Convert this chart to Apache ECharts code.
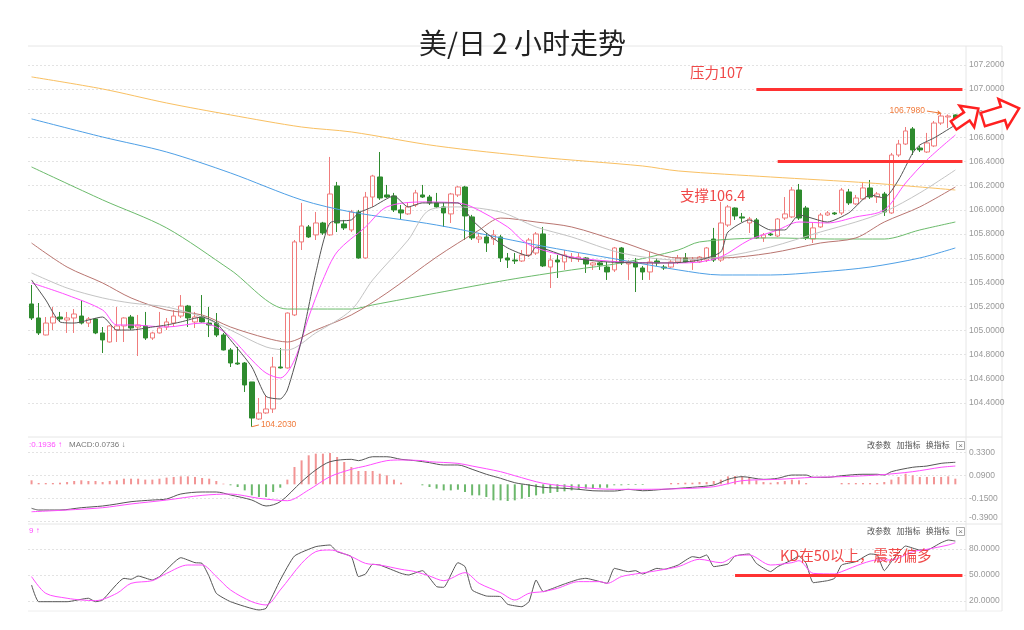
<!DOCTYPE html>
<html><head><meta charset="utf-8">
<script src="https://cdn.jsdelivr.net/npm/echarts@6/dist/echarts.min.js"></script>
<style>html,body{margin:0;padding:0;background:#fff}#c{width:1024px;height:630px}</style>
</head><body><div id="c"></div>
<script>
// ---------- DATA ----------
const categories = Array.from({length: 132}, (_, i) => 'K' + (i + 1));
// [open, close, low, high]
const candles = [
[105.220,105.104,105.087,105.377],[105.104,104.980,104.963,105.228],[104.963,105.062,104.960,105.112],[105.062,105.112,105.004,105.195],
[105.112,105.096,105.071,105.154],[105.087,105.104,104.980,105.154],[105.104,105.137,104.980,105.178],[105.120,105.062,105.050,105.253],
[105.062,105.096,105.029,105.112],[105.096,104.980,104.970,105.104],[104.980,104.922,104.814,105.029],[104.905,105.038,104.900,105.045],
[105.004,105.038,104.905,105.195],[105.038,105.104,104.905,105.110],[105.112,105.021,105.004,105.129],[105.029,105.046,104.789,105.129],
[105.038,104.938,104.922,105.154],[104.938,104.980,104.922,104.990],[104.980,105.021,104.975,105.154],[105.029,105.071,105.004,105.104],
[105.062,105.120,105.029,105.170],[105.120,105.203,105.104,105.294],[105.203,105.104,105.029,105.212],[105.071,105.112,105.021,105.154],
[105.112,105.071,105.065,105.294],[105.062,105.046,104.946,105.195],[105.062,104.963,104.946,105.145],[104.963,104.839,104.835,104.980],
[104.839,104.731,104.698,104.855],[104.731,104.723,104.715,104.864],[104.731,104.549,104.491,104.739],[104.574,104.275,104.203,104.574],
[104.267,104.317,104.259,104.441],[104.317,104.350,104.310,104.466],[104.350,104.698,104.317,104.781],[104.698,104.690,104.685,104.855],
[104.690,105.145,104.685,105.150],[105.129,105.734,105.120,105.750],[105.734,105.866,105.667,106.057],[105.858,105.775,105.767,105.874],
[105.792,105.891,105.750,105.982],[105.891,105.808,105.792,105.900],[105.792,106.131,105.785,106.438],[106.198,105.891,105.816,106.231],
[105.883,105.850,105.833,105.916],[105.833,105.982,105.816,105.999],[105.982,105.601,105.595,105.999],[105.601,106.106,105.595,106.148],
[106.106,106.280,106.024,106.290],[106.272,106.098,106.082,106.479],[106.123,106.106,106.098,106.206],[106.115,105.999,105.982,106.140],
[105.999,105.974,105.924,106.040],[105.966,106.024,105.958,106.057],[106.040,106.140,106.024,106.165],[106.123,106.106,106.098,106.206],
[106.106,106.057,106.040,106.123],[106.057,106.024,106.016,106.140],[106.024,105.974,105.858,106.057],[105.966,106.131,105.891,106.140],
[106.123,106.189,106.106,106.198],[106.189,105.949,105.750,106.198],[105.941,105.767,105.750,105.958],[105.758,105.775,105.725,105.808],
[105.775,105.725,105.651,105.808],[105.758,105.792,105.709,105.833],[105.775,105.601,105.568,105.792],[105.601,105.584,105.518,105.642],
[105.584,105.576,105.551,105.642],[105.576,105.626,105.568,105.667],[105.626,105.750,105.609,105.767],[105.642,105.800,105.626,105.816],
[105.800,105.535,105.526,105.858],[105.526,105.584,105.352,105.626],[105.584,105.568,105.435,105.626],[105.568,105.626,105.502,105.667],
[105.601,105.609,105.568,105.642],[105.593,105.609,105.568,105.642],[105.601,105.551,105.477,105.609],[105.543,105.560,105.502,105.568],
[105.560,105.543,105.502,105.568],[105.526,105.485,105.419,105.568],[105.502,105.684,105.485,105.692],[105.684,105.560,105.543,105.692],
[105.551,105.560,105.419,105.584],[105.568,105.526,105.319,105.601],[105.518,105.485,105.419,105.535],[105.485,105.568,105.419,105.651],
[105.576,105.560,105.535,105.601],[105.526,105.518,105.502,105.543],[105.526,105.568,105.518,105.584],[105.568,105.601,105.551,105.626],
[105.601,105.568,105.560,105.642],[105.568,105.584,105.502,105.609],[105.568,105.609,105.560,105.617],[105.584,105.684,105.568,105.692],
[105.758,105.584,105.568,105.850],[105.584,105.891,105.568,106.065],[105.874,106.024,105.858,106.040],[106.015,105.949,105.916,106.020],
[105.941,105.932,105.899,105.974],[105.891,105.924,105.808,105.941],[105.916,105.767,105.758,105.932],[105.767,105.792,105.734,105.808],
[105.800,105.792,105.783,105.808],[105.783,105.924,105.775,105.932],[105.932,105.966,105.916,106.106],[105.941,106.164,105.932,106.189],
[106.164,105.932,105.916,106.214],[106.015,105.767,105.750,106.032],[105.758,105.850,105.725,105.891],[105.858,105.957,105.850,105.974],
[105.957,105.974,105.949,105.990],[105.974,105.966,105.957,105.982],[105.974,106.164,105.957,106.181],[106.148,106.057,106.040,106.173],
[106.049,106.098,106.040,106.123],[106.090,106.181,106.082,106.231],[106.181,106.106,106.090,106.247],[106.106,106.131,106.057,106.148],
[106.131,105.982,105.949,106.148],[105.974,106.454,105.966,106.471],[106.454,106.545,106.438,106.579],[106.545,106.653,106.537,106.686],
[106.670,106.496,106.454,106.686],[106.512,106.496,106.479,106.529],[106.479,106.554,106.471,106.637],[106.529,106.719,106.520,106.736],
[106.719,106.777,106.703,106.798],[106.769,106.777,106.678,106.790],[106.786,106.736,106.719,106.790]
];
// moving averages: [candle index, value]
const ma5 = [[0,105.419],[2,105.253],[4,105.071],[6,105.062],[10,105.112],[12,105.004],[14,105.004],[17,105.029],[19,105.046],[21,105.071],[24,105.112],[26,105.062],[28,104.922],[31,104.698],[33,104.455],[35,104.433],[36,104.507],[38,104.922],[40,105.477],[42,105.891],[45,105.916],[46,105.974],[48,106.024],[51,106.115],[53,106.024],[55,106.057],[57,106.057],[60,106.057],[62,105.916],[64,105.808],[67,105.684],[70,105.618],[71,105.692],[76,105.601],[81,105.568],[86,105.56],[90,105.56],[94,105.584],[97,105.651],[98,105.816],[101,105.916],[104,105.833],[106,105.833],[108,105.957],[112,105.899],[115,105.974],[118,106.123],[120,106.098],[122,106.247],[124,106.471],[125,106.537],[127,106.595],[130,106.703]];
const ma10 = [[0,105.394],[5,105.294],[10,105.17],[12,105.046],[14,105.046],[19,105.029],[24,105.062],[26,105.029],[28,104.946],[31,104.756],[33,104.648],[35,104.607],[37,104.756],[39,105.112],[41,105.419],[43,105.651],[47,105.858],[50,106.024],[55,106.065],[60,106.057],[62,106.024],[67,105.858],[69,105.75],[71,105.684],[76,105.609],[83,105.568],[91,105.56],[94,105.568],[97,105.609],[101,105.75],[105,105.833],[108,105.899],[112,105.891],[116,105.941],[120,105.999],[123,106.222],[126,106.413],[130,106.62]];
const ma20 = [[0,105.477],[5,105.352],[10,105.27],[14,105.228],[19,105.195],[24,105.112],[28,105.004],[33,104.864],[36,104.839],[40,104.98],[45,105.17],[48,105.419],[53,105.75],[56,105.999],[60,106.024],[66,105.982],[71,105.858],[76,105.775],[83,105.642],[91,105.584],[97,105.609],[104,105.692],[111,105.816],[116,105.899],[120,105.982],[125,106.14],[130,106.33]];
const ma30 = [[0,105.725],[5,105.526],[10,105.394],[14,105.27],[19,105.17],[24,105.129],[28,105.029],[33,104.938],[36,104.905],[40,105.004],[45,105.129],[50,105.311],[57,105.609],[63,105.833],[66,105.932],[71,105.899],[76,105.858],[83,105.734],[91,105.601],[97,105.601],[104,105.642],[111,105.725],[116,105.767],[120,105.899],[125,106.024],[130,106.189]];
const ma60 = [[0,106.355],[10,106.082],[19,105.85],[28,105.502],[36,105.178],[45,105.178],[48,105.212],[57,105.311],[67,105.419],[76,105.502],[83,105.56],[91,105.667],[94,105.734],[104,105.767],[113,105.758],[120,105.758],[125,105.833],[130,105.899]];
const ma120 = [[0,106.753],[10,106.603],[19,106.479],[28,106.305],[38,106.082],[45,105.982],[57,105.874],[71,105.709],[83,105.584],[91,105.502],[97,105.46],[104,105.46],[111,105.485],[118,105.526],[125,105.601],[130,105.684]];
const ma250 = [[0,107.101],[10,107.001],[19,106.885],[28,106.786],[38,106.686],[45,106.645],[57,106.529],[71,106.438],[86,106.363],[91,106.322],[104,106.272],[118,106.222],[130,106.164]];
// MACD
const macdHist = [0.042,0.014,0.014,0.014,0.017,0.024,0.035,0.042,0.035,0.035,0.024,0.035,0.042,0.059,0.059,0.059,0.049,0.049,0.059,0.07,
0.077,0.083,0.083,0.077,0.066,0.059,0.035,0.007,-0.01,-0.028,-0.063,-0.115,-0.132,-0.132,-0.08,-0.035,0.049,0.181,0.25,0.303,
0.32,0.32,0.327,0.285,0.233,0.181,0.139,0.139,0.139,0.111,0.094,0.049,0.017,0,0,-0.01,-0.028,-0.045,-0.063,-0.063,
-0.056,-0.08,-0.115,-0.115,-0.132,-0.167,-0.167,-0.174,-0.167,-0.15,-0.132,-0.115,-0.097,-0.09,-0.08,-0.073,-0.063,-0.056,-0.045,-0.045,
-0.035,-0.035,-0.01,-0.01,-0.007,-0.007,-0.007,0,0,0,0.014,0.014,0.017,0.017,0.024,0.024,0.035,0.049,0.083,0.087,
0.083,0.077,0.042,0.024,0.017,0.024,0.035,0.049,0.042,0.014,0,0,0,0,0.014,0.014,0.014,0.014,0.014,0.014,
0.024,0.049,0.077,0.111,0.094,0.077,0.077,0.077,0.077,0.083,0.059];
const dif = [[0,-0.25],[1,-0.268],[4,-0.268],[7,-0.244],[10,-0.226],[12,-0.205],[14,-0.181],[17,-0.164],[19,-0.153],[21,-0.101],[24,-0.08],[26,-0.08],[28,-0.111],[31,-0.164],[33,-0.226],[35,-0.181],[38,0.027],[40,0.15],[42,0.236],[45,0.261],[46,0.247],[48,0.288],[50,0.288],[52,0.261],[54,0.247],[56,0.226],[58,0.202],[60,0.202],[62,0.157],[64,0.105],[66,0.063],[68,0.017],[70,-0.007],[72,-0.031],[75,-0.042],[77,-0.052],[79,-0.067],[82,-0.07],[84,-0.052],[86,-0.067],[89,-0.052],[91,-0.042],[93,-0.031],[96,-0.007],[98,0.052],[100,0.08],[103,0.052],[105,0.063],[107,0.097],[109,0.097],[110,0.073],[112,0.073],[114,0.09],[117,0.105],[119,0.105],[120,0.097],[121,0.132],[124,0.178],[126,0.191],[128,0.219],[130,0.23]];
const dea = [[0,-0.286],[5,-0.268],[10,-0.244],[14,-0.205],[19,-0.164],[24,-0.115],[28,-0.101],[32,-0.146],[36,-0.171],[39,-0.059],[42,0.08],[45,0.157],[47,0.191],[50,0.247],[52,0.254],[55,0.247],[56,0.236],[60,0.219],[62,0.191],[66,0.132],[68,0.09],[72,0.011],[77,-0.031],[82,-0.052],[86,-0.052],[91,-0.046],[96,-0.025],[100,0.038],[105,0.052],[110,0.073],[114,0.08],[119,0.097],[124,0.132],[128,0.178],[130,0.191]];
// KD
const kLine = [[0,38.4],[1,19],[5,19],[8,23],[9,19],[10,21],[13,46.1],[14,45],[15,48.8],[17,44.2],[18,48.1],[21,70.1],[23,64.3],[24,63.5],[25,48.1],[26,28.7],[28,19],[32,9.4],[33,11.3],[35,44.2],[37,72],[40,82.9],[42,84.8],[43,77.1],[45,71.3],[46,48.1],[47,51.2],[48,62.4],[49,61.6],[52,51.9],[53,50],[55,55],[57,36.5],[58,35.7],[60,64.3],[61,59.7],[62,32.6],[64,25.6],[66,24.9],[67,16],[69,13.2],[70,19],[71,44.2],[72,30.7],[74,36.5],[75,39.6],[77,45],[78,46.1],[80,42.3],[81,40.3],[82,57.7],[84,53.9],[85,55],[86,51.2],[88,57.7],[89,56.6],[91,61.6],[93,71.3],[94,70.1],[95,73.2],[96,59.7],[98,62.8],[99,72],[101,74.4],[102,63.5],[104,53.9],[105,59.7],[107,67.4],[108,72],[109,63.5],[110,41.1],[112,43.4],[113,46.1],[114,61.6],[116,65.5],[118,74.4],[119,73.2],[120,55],[121,65.5],[123,83.6],[125,79],[126,79],[128,87.5],[129,90.6],[130,89.4]];
const dLine = [[0,48.1],[2,28.7],[5,23],[7,21],[9,20.2],[12,28.7],[14,40.3],[17,43.4],[19,51.9],[22,61.6],[24,61.6],[26,48.1],[28,32.6],[31,19],[33,15.2],[35,32.6],[38,63.5],[40,77.1],[42,79],[45,71.3],[47,63.5],[49,61.6],[52,56.6],[54,53.9],[56,48.8],[58,43.4],[61,52.7],[63,40.3],[66,29.5],[68,21],[70,28.7],[72,30.7],[74,34.5],[77,42.3],[80,42.3],[81,40.3],[83,48.1],[85,51.2],[88,55],[91,59.7],[94,68.2],[97,64.3],[99,72],[101,73.2],[104,61.6],[107,64.3],[108,66.6],[110,51.9],[113,51.2],[114,53.9],[117,63.5],[119,67.4],[121,67.4],[124,77.1],[126,79.8],[129,84.8],[130,87.5]];
// axis ticks
const priceTicks = [107.2,107.0,106.8,106.6,106.4,106.2,106.0,105.8,105.6,105.4,105.2,105.0,104.8,104.6,104.4];
const macdTicks = [0.33,0.09,-0.15,-0.39];
const kdTicks = [80,50,20];
// annotations
const resistance = 107.0, support = 106.4, kdLevel = 50;
const lowPrice = 104.2030, highPrice = 106.7980;

// ---------- CHART ----------
const chart = echarts.init(document.getElementById('c'));
const RED = '#ff3232';
const gridLeft = 28, gridW = 938;
function xAx(g){return {type:'category',gridIndex:g,data:categories,boundaryGap:true,axisLine:{show:false},axisTick:{show:false},axisLabel:{show:false},splitLine:{show:false}};}
function yAx(g,min,max,ticks,dec){return {type:'value',gridIndex:g,position:'right',min:min,max:max,
  axisLine:{show:false},axisTick:{show:false,customValues:ticks},
  axisLabel:{customValues:ticks,formatter:v=>(v<-0.3&&v>-1)?'{up|'+v.toFixed(dec)+'}':v.toFixed(dec),color:'#9a9a9a',fontSize:8.5,margin:3,fontFamily:'Liberation Sans',
    rich:{up:{color:'#9a9a9a',fontSize:8.5,fontFamily:'Liberation Sans',padding:[0,0,9,0]}}},
  splitLine:{show:true,lineStyle:{color:'#e3e3e3',type:[2,2],width:1}}};}
function ln(name,data,color,x,smooth,w){return {name:name,type:'line',xAxisIndex:x,yAxisIndex:x,data:data,symbol:'none',smooth:smooth,
  lineStyle:{color:color,width:w||1},z:3,silent:true};}

const option = {
  animation:false,
  backgroundColor:'#fff',
  title:{text:'美/日 2 小时走势',left:414,top:24,textStyle:{fontSize:28,fontWeight:'normal',color:'#222',fontFamily:'Noto Sans CJK SC'}},
  grid:[
    {left:gridLeft,top:46,width:gridW,height:391},
    {left:gridLeft,top:437,width:gridW,height:87},
    {left:gridLeft,top:524,width:gridW,height:87}
  ],
  xAxis:[xAx(0),xAx(1),xAx(2)],
  yAxis:[yAx(0,104.118,107.357,priceTicks,4),yAx(1,-0.414,0.494,macdTicks,4),yAx(2,8.2,109.2,kdTicks,4)],
  series:[
    {type:'candlestick',xAxisIndex:0,yAxisIndex:0,data:candles,barWidth:5,z:2,
     itemStyle:{color:'rgba(255,255,255,0)',color0:'#2e8b2e',borderColor:'#f07c7c',borderColor0:'#2e8b2e',borderWidth:1},
     markLine:{symbol:'none',silent:true,animation:false,
       lineStyle:{color:RED,width:3,type:'solid'},label:{show:false},
       data:[
         [{coord:[102,resistance]},{coord:[131,resistance]}],
         [{coord:[105,support]},{coord:[131,support]}],
         [{coord:[31,lowPrice],lineStyle:{color:'#f07a3a',width:1},label:{show:true,position:'end',formatter:lowPrice.toFixed(4),color:'#f07a3a',fontSize:8.5,distance:2,fontFamily:'Liberation Sans'}},{coord:[32,104.218]}],
         [{coord:[126,106.818],symbol:'none',lineStyle:{color:'#f07a3a',width:1},label:{show:true,position:'start',formatter:highPrice.toFixed(4),color:'#f07a3a',fontSize:8.5,distance:2,fontFamily:'Liberation Sans'}},{coord:[128,106.800],symbol:'arrow',symbolSize:4}]
       ]}
    },
    ln('MA250',ma250,'#f9c062',0,0.3),
    ln('MA120',ma120,'#4fa0e6',0,0.3),
    ln('MA60',ma60,'#6cbb6c',0,0.3),
    ln('MA30',ma30,'#b97570',0,0.3),
    ln('MA20',ma20,'#c4c4c4',0,0.3),
    ln('MA10',ma10,'#ff4dff',0,0.3),
    ln('MA5',ma5,'#555555',0,0.2),
    {type:'bar',xAxisIndex:1,yAxisIndex:1,data:macdHist,barWidth:2,silent:true,
     itemStyle:{color:p=>p.value>=0?'#f29494':'#6cb86c'}},
    ln('DIF',dif,'#555555',1,0.3),
    ln('DEA',dea,'#ff4dff',1,0.3),
    Object.assign(ln('K',kLine,'#555555',2,0.15),{markLine:{symbol:'none',silent:true,label:{show:false},lineStyle:{color:RED,width:3,type:'solid'},data:[[{coord:[99,kdLevel]},{coord:[131,kdLevel]}]]}}),
    ln('D',dLine,'#ff4dff',2,0.3)
  ],
  graphic:[
    {type:'line',shape:{x1:28,y1:46,x2:1002,y2:46},style:{stroke:'#e6e6e6',lineWidth:1},silent:true,z:0},
    {type:'line',shape:{x1:28,y1:437,x2:1002,y2:437},style:{stroke:'#e6e6e6',lineWidth:1},silent:true},
    {type:'line',shape:{x1:28,y1:524,x2:1002,y2:524},style:{stroke:'#e6e6e6',lineWidth:1},silent:true},
    {type:'line',shape:{x1:28,y1:611,x2:1002,y2:611},style:{stroke:'#eeeeee',lineWidth:1},silent:true},
    {type:'line',shape:{x1:966,y1:46,x2:966,y2:611},style:{stroke:'#e6e6e6',lineWidth:1},silent:true},
    {type:'line',shape:{x1:1002,y1:46,x2:1002,y2:611},style:{stroke:'#e6e6e6',lineWidth:1},silent:true},
    {type:'text',x:690,y:72,style:{text:'压力107',fill:'#f04848',fontSize:14.5,fontFamily:'Noto Sans CJK SC',align:'left',verticalAlign:'middle'},z:10},
    {type:'text',x:680,y:195,style:{text:'支撑106.4',fill:'#f04848',fontSize:14.5,fontFamily:'Noto Sans CJK SC',align:'left',verticalAlign:'middle'},z:10},
    {type:'text',x:780,y:555,style:{text:'KD在50以上，震荡偏多',fill:'#f04848',fontSize:14.5,fontFamily:'Noto Sans CJK SC',align:'left',verticalAlign:'middle'},z:10},
    {type:'text',x:29,y:445,style:{text:':0.1936 ↑',fill:'#ff4dff',fontSize:8,fontFamily:'Liberation Sans',align:'left',verticalAlign:'middle'}},
    {type:'text',x:69,y:445,style:{text:'MACD:0.0736 ↓',fill:'#777',fontSize:8,fontFamily:'Liberation Sans',align:'left',verticalAlign:'middle'}},
    {type:'text',x:29,y:531,style:{text:'9 ↑',fill:'#ff4dff',fontSize:8,fontFamily:'Liberation Sans',align:'left',verticalAlign:'middle'}},
    {type:'text',x:867,y:445,style:{text:'改参数   加指标   换指标',fill:'#555',fontSize:8,fontFamily:'Noto Sans CJK SC',align:'left',verticalAlign:'middle'}},
    {type:'text',x:867,y:531,style:{text:'改参数   加指标   换指标',fill:'#555',fontSize:8,fontFamily:'Noto Sans CJK SC',align:'left',verticalAlign:'middle'}},
    {type:'rect',shape:{x:956.5,y:441.5,width:8,height:8},style:{fill:'#fff',stroke:'#aaa',lineWidth:1}},
    {type:'text',x:960.5,y:445.5,style:{text:'×',fill:'#777',fontSize:8,align:'center',verticalAlign:'middle'}},
    {type:'rect',shape:{x:956.5,y:527.5,width:8,height:8},style:{fill:'#fff',stroke:'#aaa',lineWidth:1}},
    {type:'text',x:960.5,y:531.5,style:{text:'×',fill:'#777',fontSize:8,align:'center',verticalAlign:'middle'}},
    {type:'polygon',x:966,y:117,rotation:0.6,shape:{points:[[-15,-5],[1,-5],[1,-13],[15,0],[1,13],[1,5],[-15,5]]},style:{fill:'#fff',stroke:'#ff2020',lineWidth:2.5},z:20},
    {type:'polygon',x:1001,y:114,rotation:0.3,shape:{points:[[-19,-7],[2,-7],[2,-15],[19,0],[2,15],[2,7],[-19,7]]},style:{fill:'#fff',stroke:'#ff2020',lineWidth:2.5},z:20}
  ]
};
chart.setOption(option);
</script>
</body></html>
